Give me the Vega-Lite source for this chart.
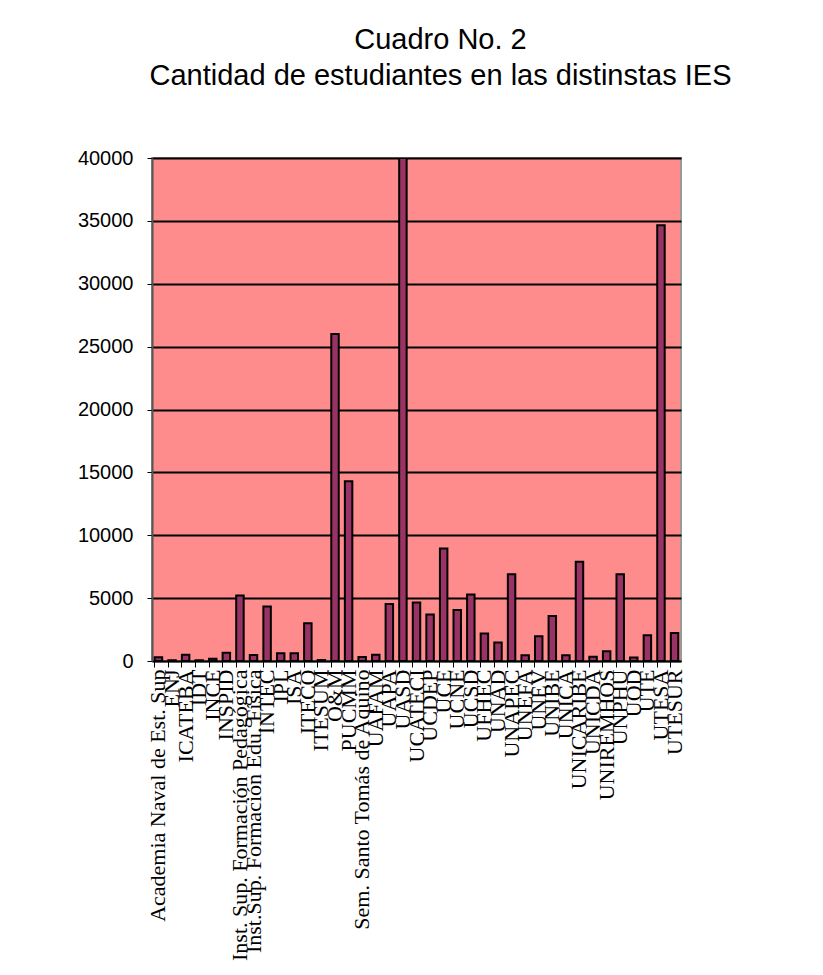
{
  "$schema": "https://vega.github.io/schema/vega-lite/v6.json",
  "autosize": "none",
  "width": 529,
  "height": 503,
  "padding": {"left": 152, "top": 158, "right": 142, "bottom": 314},
  "background": "white",
  "title": {
    "text": ["Cuadro No. 2", "Cantidad de estudiantes en las distinstas IES"],
    "font": "Liberation Sans",
    "fontSize": 29,
    "fontWeight": "normal",
    "color": "black",
    "lineHeight": 36,
    "anchor": "middle",
    "frame": "group",
    "dx": 24,
    "offset": 57
  },
  "data": {
    "values": [
      {"ies": "Academia Naval de Est. Sup", "estudiantes": 300},
      {"ies": "ENJ", "estudiantes": 60},
      {"ies": "ICATEBA", "estudiantes": 500},
      {"ies": "IDT", "estudiantes": 60},
      {"ies": "INCE", "estudiantes": 180},
      {"ies": "INSPID", "estudiantes": 650},
      {"ies": "Inst. Sup. Formación Pedagógica", "estudiantes": 5200},
      {"ies": "Inst.Sup. Formación Edu. Física", "estudiantes": 480},
      {"ies": "INTEC", "estudiantes": 4330},
      {"ies": "IPL", "estudiantes": 620},
      {"ies": "ISA", "estudiantes": 620},
      {"ies": "ITECO", "estudiantes": 3000},
      {"ies": "ITESUM", "estudiantes": 80},
      {"ies": "O&M", "estudiantes": 26000},
      {"ies": "PUCMM", "estudiantes": 14300},
      {"ies": "Sem. Santo Tomás de Aquino", "estudiantes": 320},
      {"ies": "UAFAM", "estudiantes": 500},
      {"ies": "UAPA", "estudiantes": 4540},
      {"ies": "UASD", "estudiantes": 40000},
      {"ies": "UCATECI", "estudiantes": 4650},
      {"ies": "UCDEP", "estudiantes": 3700},
      {"ies": "UCE", "estudiantes": 8950},
      {"ies": "UCNE", "estudiantes": 4050},
      {"ies": "UCSD", "estudiantes": 5280},
      {"ies": "UFHEC", "estudiantes": 2180},
      {"ies": "UNAD", "estudiantes": 1470},
      {"ies": "UNAPEC", "estudiantes": 6900},
      {"ies": "UNEFA", "estudiantes": 450},
      {"ies": "UNEV", "estudiantes": 1970},
      {"ies": "UNIBE", "estudiantes": 3570},
      {"ies": "UNICA", "estudiantes": 450},
      {"ies": "UNICARIBE", "estudiantes": 7900},
      {"ies": "UNICDA", "estudiantes": 340},
      {"ies": "UNIREMHOS", "estudiantes": 780},
      {"ies": "UNPHU", "estudiantes": 6900},
      {"ies": "UOD", "estudiantes": 280},
      {"ies": "UTE", "estudiantes": 2050},
      {"ies": "UTESA", "estudiantes": 34650},
      {"ies": "UTESUR", "estudiantes": 2230}
    ]
  },
  "mark": {
    "type": "bar",
    "color": "#993366",
    "stroke": "black",
    "strokeWidth": 2,
    "clip": true
  },
  "encoding": {
    "x": {
      "field": "ies",
      "type": "nominal",
      "sort": null,
      "title": null,
      "scale": {"paddingInner": 0.45, "paddingOuter": 0.2},
      "axis": {
        "labelAngle": -90,
        "labelAlign": "right",
        "labelBaseline": "middle",
        "labelFont": "Liberation Serif",
        "labelFontSize": 22,
        "labelColor": "black",
        "labelPadding": 2,
        "labelOverlap": false,
        "labelLimit": 400,
        "bandPosition": 0,
        "tickSize": 6,
        "tickColor": "black",
        "domainColor": "black",
        "domainWidth": 1.5,
        "grid": false
      }
    },
    "y": {
      "field": "estudiantes",
      "type": "quantitative",
      "title": null,
      "scale": {"domain": [0, 40000], "nice": false},
      "axis": {
        "values": [0, 5000, 10000, 15000, 20000, 25000, 30000, 35000, 40000],
        "format": "d",
        "labelFont": "Liberation Sans",
        "labelFontSize": 20,
        "labelColor": "black",
        "labelPadding": 14,
        "tickSize": 5,
        "tickColor": "black",
        "domainColor": "#555555",
        "domainWidth": 2,
        "grid": true,
        "gridColor": "black",
        "gridWidth": 2,
        "gridOpacity": 1
      }
    }
  },
  "config": {
    "view": {"fill": "#FF8C8C", "stroke": "#9A9A9A", "strokeWidth": 2}
  }
}
